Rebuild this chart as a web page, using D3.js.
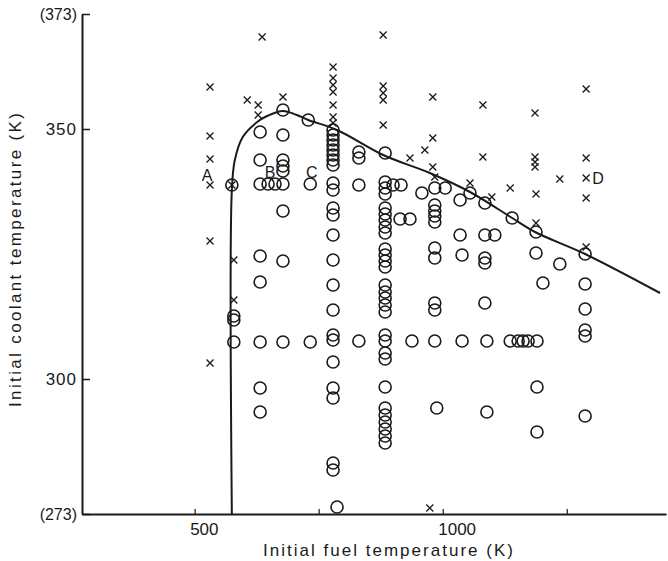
<!DOCTYPE html>
<html>
<head>
<meta charset="utf-8">
<script src="https://cdn.jsdelivr.net/npm/d3@7"></script>
<style>
  body { margin: 0; background: #fff; }
  text { font-family: "Liberation Sans", "DejaVu Sans", sans-serif; fill: #1a1a1a; }
</style>
</head>
<body>
<svg id="chart" width="668" height="561"></svg>
<script>
// Axis ticks and their labels
const fuelTicks = [500, 750, 1000, 1250];
const fuelTickLabels = ["500", "", "1000", ""];
const coolantTicks = [273, 300, 350, 373];
const coolantTickLabels = ["(273)", "300", "350", "(373)"];

// Runs without vapour explosion: [initial fuel temperature K, initial coolant temperature K]
const circleRuns = [
  [575, 338.8],
  [579, 312.6], [579, 311.8], [579, 307.4],
  [632, 349.4], [632, 343.8], [632, 339], [632, 324.6], [632, 319.4], [632, 307.4], [632, 298.2], [632, 293.4],
  [648, 339], [662, 339],
  [678, 353.8], [678, 348.8], [678, 343.8], [678, 342.6], [678, 341.6], [678, 339], [678, 333.6], [678, 323.6], [678, 307.4],
  [729, 351.8], [733, 339], [733, 307.4],
  [779, 349.8], [779, 348.8], [779, 347.8], [779, 346.8], [779, 345.8], [779, 344.8], [779, 343.8], [779, 342.8],
  [779, 339.2], [779, 337.8], [779, 334.2], [779, 332.8], [779, 328.8], [779, 323.8], [779, 318.8], [779, 313.8],
  [779, 308.8], [779, 307.8], [779, 303.4], [779, 298.2], [779, 296.2], [779, 283.2], [779, 281.8], [787, 274.4],
  [831, 345.4], [831, 344.2], [831, 338.8], [831, 307.6],
  [884, 345.2], [884, 339.4], [884, 338.2], [884, 337], [884, 334.2], [884, 333], [884, 331.8], [884, 330.4],
  [884, 329.2], [884, 326], [884, 324.8], [884, 323.6], [884, 322.4], [884, 318.8], [884, 317.4], [884, 316.2],
  [884, 314.8], [884, 313.4], [884, 308.8], [884, 307.6], [884, 305.2], [884, 304], [884, 298.4], [884, 294.2],
  [884, 292.8], [884, 291.4], [884, 290], [884, 288.6], [884, 287.2],
  [900, 338.8], [916, 338.8], [914, 332], [934, 332], [938, 307.6], [958, 337.2],
  [984, 338.2], [984, 334.8], [984, 333.6], [984, 332.6], [984, 331.4], [984, 326.2], [984, 324.2],
  [984, 315.2], [984, 313.8], [984, 307.6], [988, 294.2],
  [1005, 338.2], [1035, 335.8], [1055, 337.2], [1035, 328.8], [1039, 324.8], [1039, 307.6],
  [1085, 335.2], [1085, 328.8], [1105, 328.8], [1085, 324.2], [1085, 323.2], [1085, 315.2], [1089, 307.6], [1089, 293.4],
  [1136, 307.6], [1152, 307.6], [1162, 307.6], [1172, 307.6], [1190, 307.6],
  [1140, 332.2], [1188, 329.4], [1188, 325.2], [1202, 319.2], [1236, 323], [1190, 298.4], [1190, 289.4],
  [1287, 325], [1287, 319], [1287, 314], [1287, 309.8], [1287, 308.6], [1287, 292.6]
];

// Runs with vapour explosion
const crossRuns = [
  [531, 358.4], [531, 348.6], [531, 344], [531, 338.8], [531, 327.6], [531, 303.2],
  [575, 338.8],
  [579, 323.8], [579, 315.8],
  [606, 355.8], [628, 354.8], [628, 352.8], [636, 368.4], [678, 356.4],
  [779, 362.4], [779, 360.2], [779, 358.8], [779, 357.4], [779, 354.8], [779, 352.4], [779, 351.2],
  [880, 368.8], [880, 358.6], [880, 357.2], [880, 355.8], [880, 350.8],
  [934, 344.2], [964, 345.8], [980, 356.4], [980, 348.2], [980, 342.4], [984, 340.4],
  [1055, 339.2], [1081, 354.8], [1081, 344.4], [1099, 336.4], [1136, 338.2],
  [1186, 353.2], [1186, 344.4], [1186, 343.4], [1186, 342.4], [1188, 337], [1188, 331.2],
  [1236, 340],
  [1289, 358], [1289, 344.2], [1289, 340.2], [1289, 336.2], [1289, 326.4],
  [974, 274.2]
];

// Boundary between the two regimes
const boundary = [
  [575, 273], [575, 337.8], [581, 343.8], [597, 348.4], [626, 351.4], [646, 352.6], [678, 353.6],
  [706, 352.8], [729, 351.8], [787, 349.8], [880, 344.8], [974, 341.2], [1055, 337.4],
  [1140, 332.2], [1186, 329.4], [1287, 325], [1438, 317.2]
];

// Case labels
const caseNames = ["A", "B", "C", "D"];
const caseFuel = [525, 652, 736, 1313];
const caseCoolant = [340.8, 341.4, 341.4, 340.2];

const svg = d3.select("#chart");
const x = d3.scaleLinear().domain([273, 1450]).range([82, 666]);
const y = d3.scaleLinear().domain([273, 373]).range([514, 14]);
const ink = "#1a1a1a";

// boundary curve
svg.append("path")
  .datum(boundary)
  .attr("fill", "none")
  .attr("stroke", ink)
  .attr("stroke-width", 2)
  .attr("d", d3.line().x(d => x(d[0])).y(d => y(d[1])).curve(d3.curveCatmullRom.alpha(0.5)));

// x axis
const xAxis = svg.append("g")
  .attr("transform", `translate(0,${y(273)})`)
  .call(d3.axisBottom(x).tickValues(fuelTicks).tickSize(-5).tickSizeOuter(0)
    .tickFormat((d, i) => fuelTickLabels[i]));
xAxis.select(".domain").attr("stroke", ink).attr("stroke-width", 2);
xAxis.selectAll(".tick line").attr("stroke", ink).attr("stroke-width", 1.2);
xAxis.selectAll(".tick text")
  .attr("font-size", 17).attr("text-anchor", "start").attr("x", -5).attr("y", 9)
  .attr("font-family", "Liberation Sans, sans-serif").attr("fill", ink);

// y axis
const yAxis = svg.append("g")
  .attr("transform", `translate(${x(273)},0)`)
  .call(d3.axisLeft(y).tickValues(coolantTicks).tickSize(-8).tickSizeOuter(0)
    .tickFormat((d, i) => coolantTickLabels[i]));
yAxis.select(".domain").attr("stroke", ink).attr("stroke-width", 2);
yAxis.selectAll(".tick line").attr("stroke", ink).attr("stroke-width", 1.5);
yAxis.selectAll(".tick text")
  .attr("x", -5)
  .attr("font-family", "Liberation Sans, sans-serif").attr("fill", ink)
  .attr("letter-spacing", (d, i) => coolantTickLabels[i].startsWith("(") ? 0 : 1)
  .attr("font-size", (d, i) => coolantTickLabels[i].startsWith("(") ? 16 : 17);

// axis titles
svg.append("text")
  .attr("x", 388).attr("y", 556)
  .attr("text-anchor", "middle")
  .attr("font-size", 17)
  .attr("textLength", 250).attr("lengthAdjust", "spacing")
  .text("Initial fuel temperature (K)");

svg.append("text")
  .attr("transform", "translate(21,260) rotate(-90)")
  .attr("text-anchor", "middle")
  .attr("font-size", 17)
  .attr("textLength", 294).attr("lengthAdjust", "spacing")
  .text("Initial coolant temperature (K)");

// circles
svg.append("g").selectAll("circle")
  .data(circleRuns)
  .join("circle")
  .attr("cx", d => x(d[0]))
  .attr("cy", d => y(d[1]))
  .attr("r", 6)
  .attr("fill", "none")
  .attr("stroke", ink)
  .attr("stroke-width", 1.6);

// crosses
const s = 3.5;
svg.append("g").selectAll("path")
  .data(crossRuns)
  .join("path")
  .attr("d", d => {
    const cx = x(d[0]), cy = y(d[1]);
    return `M${cx - s},${cy - s}L${cx + s},${cy + s}M${cx + s},${cy - s}L${cx - s},${cy + s}`;
  })
  .attr("stroke", ink)
  .attr("stroke-width", 1.3)
  .attr("fill", "none");

// case labels
svg.append("g").selectAll("text")
  .data(caseNames)
  .join("text")
  .attr("x", (d, i) => x(caseFuel[i]))
  .attr("y", (d, i) => y(caseCoolant[i]))
  .attr("text-anchor", "middle")
  .attr("dominant-baseline", "central")
  .attr("font-size", 16)
  .text(d => d);
</script>
</body>
</html>
